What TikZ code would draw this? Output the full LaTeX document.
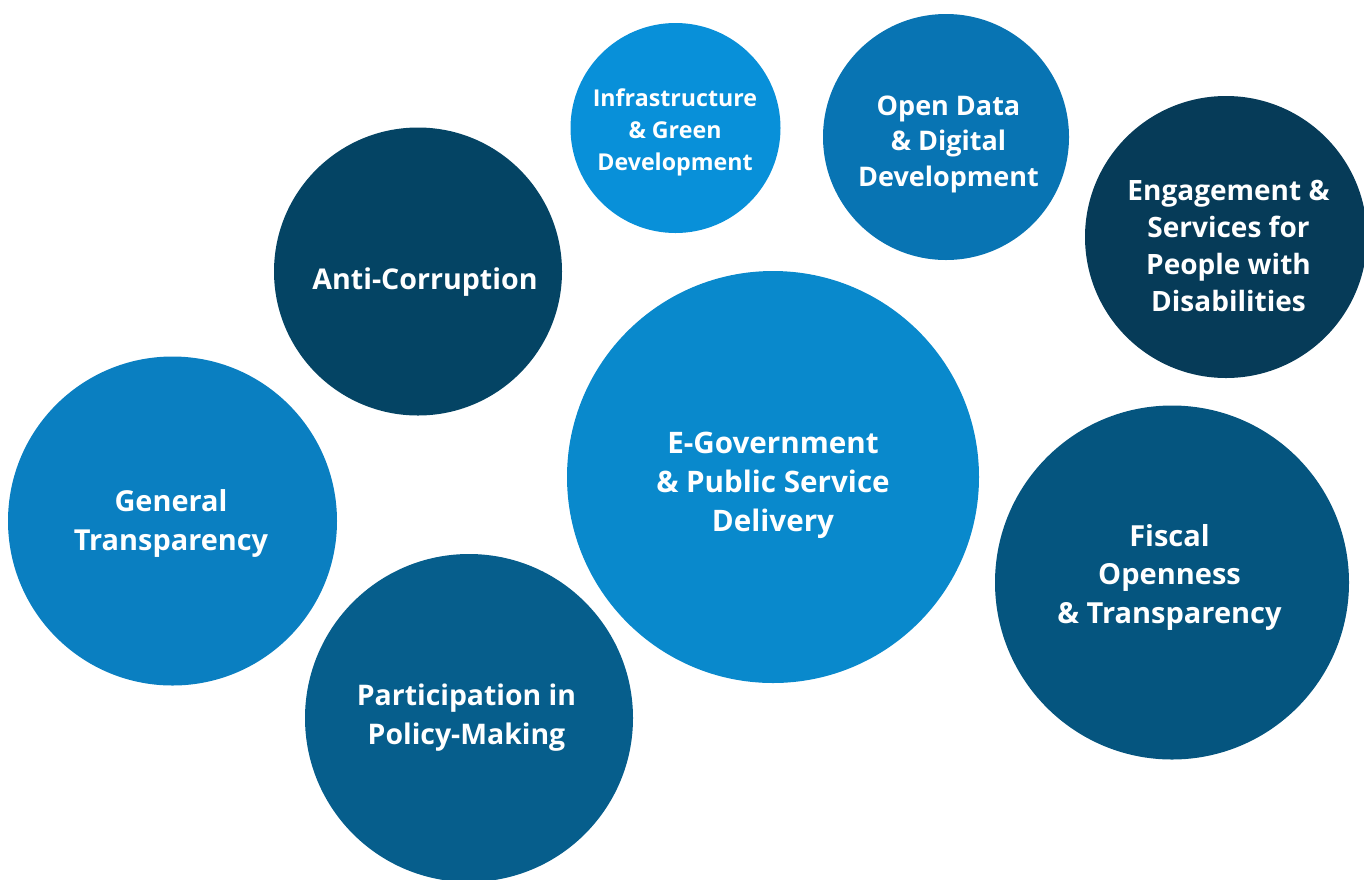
\documentclass[tikz,border=0pt]{standalone}
\usepackage{fontspec}
\setmainfont{Open Sans}
\definecolor{cInfra}{HTML}{0890D9}
\definecolor{cOpen}{HTML}{0874B3}
\definecolor{cEng}{HTML}{063B58}
\definecolor{cAnti}{HTML}{044464}
\definecolor{cGen}{HTML}{0A7FC1}
\definecolor{cEgov}{HTML}{0989CC}
\definecolor{cFisc}{HTML}{05557F}
\definecolor{cPart}{HTML}{065E8C}
\tikzset{
  bub/.style={circle, inner sep=0pt, draw=none},
  txt/.style={text=white, align=center, inner sep=0pt, font=\bfseries\fontsize{28.6}{39}\selectfont},
}
\begin{document}
\begin{tikzpicture}[x=1pt,y=-1pt]
\useasboundingbox (0,0) rectangle (1364,879);
\node[bub, fill=cInfra, minimum size=210] (infra) at (675.5,128) {};
\node[bub, fill=cOpen, minimum size=246] (open) at (946,137) {};
\node[bub, fill=cEng, minimum size=282] (eng) at (1226,237) {};
\node[bub, fill=cAnti, minimum size=288] (anti) at (418,271.5) {};
\node[bub, fill=cGen, minimum size=329] (gen) at (172.5,521) {};
\node[bub, fill=cEgov, minimum size=412] (egov) at (773,477) {};
\node[bub, fill=cFisc, minimum size=354] (fisc) at (1172,582.5) {};
\node[bub, fill=cPart, minimum size=328] (part) at (469,718) {};

\node[txt, font=\bfseries\fontsize{23.2}{32}\selectfont] (infraT) at (675,132) {Infrastructure\\\& Green\\Development};
\node[txt, font=\bfseries\fontsize{27}{35.5}\selectfont] (openT) at (948.5,144) {Open Data\\\& Digital\\Development};
\node[txt, font=\bfseries\fontsize{28}{37}\selectfont] (engT) at (1228.5,245.5) {Engagement \&\\Services for\\People with\\Disabilities};
\node[txt] (antiT) at (425,282) {Anti-Corruption};
\node[txt, font=\bfseries\fontsize{28.9}{39}\selectfont] (genT) at (171,523) {General\\Transparency};
\node[txt, font=\bfseries\fontsize{29.6}{39}\selectfont] (egovT) at (773,485) {E-Government\\\& Public Service\\Delivery};
\node[txt, font=\bfseries\fontsize{29}{38.5}\selectfont] (fiscT) at (1169.5,577) {Fiscal\\Openness\\\& Transparency};
\node[txt, font=\bfseries\fontsize{28.4}{39}\selectfont] (partT) at (466.5,717.5) {Participation in\\Policy-Making};
\end{tikzpicture}
\end{document}
